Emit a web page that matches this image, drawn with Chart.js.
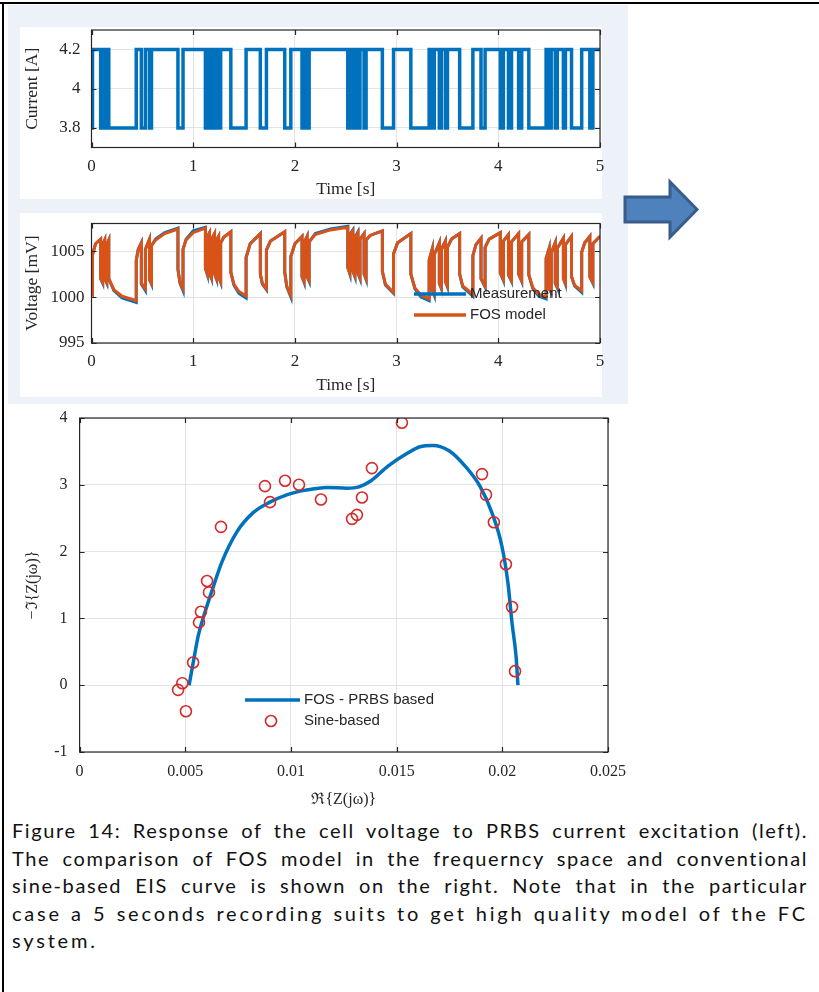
<!DOCTYPE html>
<html>
<head>
<meta charset="utf-8">
<script src="https://cdn.jsdelivr.net/npm/chart.js@4.4.1/dist/chart.umd.min.js"></script>
<style>
body{margin:0;width:819px;height:992px;background:#fff;position:relative;overflow:hidden}
.frame-top{position:absolute;left:0;top:2px;width:819px;height:2px;background:#000}
.frame-left{position:absolute;left:2px;top:2px;width:2px;height:990px;background:#000}
.panel{position:absolute;left:8px;top:5px;width:620px;height:399px;background:#edf2f9}
.white{position:absolute;background:#fff}
canvas{position:absolute}
#caption{position:absolute;left:12px;top:817px;width:796px;font-family:Lato;font-size:20px;line-height:27.5px;color:#111;letter-spacing:1.6px}
#caption div{white-space:nowrap}
#caption .j{text-align:justify;text-align-last:justify}
</style>
</head>
<body>
<div class="frame-top"></div>
<div class="frame-left"></div>
<div class="panel"></div>
<div class="white" style="left:20px;top:27px;width:582px;height:172px"></div>
<div class="white" style="left:20px;top:213px;width:582px;height:184px"></div>

<canvas id="currentChart" width="612" height="185" style="left:10px;top:15px"></canvas>
<canvas id="voltageChart" width="612" height="186" style="left:10px;top:210px"></canvas>
<canvas id="nyquistChart" width="630" height="406" style="left:10px;top:403px"></canvas>

<svg style="position:absolute;left:622px;top:178px" width="80" height="64">
  <polygon points="3,19 48,19 48,4 75,31.5 48,59 48,44 3,44" fill="#4f81bd" stroke="#385d8a" stroke-width="3"/>
</svg>

<div id="caption">
  <div class="j">Figure 14: Response of the cell voltage to PRBS current excitation (left).</div>
  <div class="j">The comparison of FOS model in the frequerncy space and conventional</div>
  <div class="j">sine-based EIS curve is shown on the right. Note that in the particular</div>
  <div class="j" style="letter-spacing:2.8px">case a 5 seconds recording suits to get high quality model of the FC</div>
  <div style="letter-spacing:2.8px">system.</div>
</div>

<script>
// PRBS current: switch instants [s] and level held from that instant [A]
const switchTimes = [0, 0.01, 0.09, 0.11, 0.13, 0.15, 0.17, 0.44, 0.49, 0.53,
  0.57, 0.59, 0.85, 0.90, 1.12, 1.14, 1.16, 1.18, 1.21, 1.23,
  1.25, 1.27, 1.37, 1.52, 1.66, 1.72, 1.90, 1.96, 2.07, 2.09,
  2.12, 2.14, 2.52, 2.54, 2.57, 2.59, 2.62, 2.64, 2.68, 2.70,
  2.86, 2.97, 3.14, 3.32, 3.35, 3.37, 3.42, 3.44, 3.48, 3.50,
  3.62, 3.75, 3.83, 3.87, 4.02, 4.05, 4.10, 4.13, 4.20, 4.23,
  4.30, 4.47, 4.50, 4.52, 4.56, 4.58, 4.64, 4.66, 4.72, 4.82,
  4.90, 4.93, 5.00];
const currentLevels = [3.8, 4.2, 3.8, 4.2, 3.8, 4.2, 3.8, 4.2, 3.8, 4.2,
  3.8, 4.2, 3.8, 4.2, 3.8, 4.2, 3.8, 4.2, 3.8, 4.2,
  3.8, 4.2, 3.8, 4.2, 3.8, 4.2, 3.8, 4.2, 3.8, 4.2,
  3.8, 4.2, 3.8, 4.2, 3.8, 4.2, 3.8, 4.2, 3.8, 4.2,
  3.8, 4.2, 3.8, 4.2, 3.8, 4.2, 3.8, 4.2, 3.8, 4.2,
  3.8, 4.2, 3.8, 4.2, 3.8, 4.2, 3.8, 4.2, 3.8, 4.2,
  3.8, 4.2, 3.8, 4.2, 3.8, 4.2, 3.8, 4.2, 3.8, 4.2,
  3.8, 4.2, 4.2];

// cell voltage [mV]
const voltTime = [
  0, 0.01,  0.01, 0.04, 0.09,  0.09, 0.11,  0.11, 0.13,  0.13, 0.15,  0.15, 0.17,
  0.17, 0.22, 0.30, 0.44,  0.44, 0.46, 0.49,  0.49, 0.53,  0.53, 0.57,  0.57, 0.59,
  0.59, 0.63, 0.72, 0.85,  0.85, 0.87, 0.90,  0.90, 0.93, 1.00, 1.12,
  1.12, 1.14,  1.14, 1.16,  1.16, 1.18,  1.18, 1.21,  1.21, 1.23,  1.23, 1.25,  1.25, 1.27,
  1.27, 1.30, 1.37,  1.37, 1.40, 1.45, 1.52,  1.52, 1.56, 1.66,  1.66, 1.68, 1.72,
  1.72, 1.76, 1.90,  1.90, 1.92, 1.96,  1.96, 2.00, 2.07,  2.07, 2.09,  2.09, 2.12,  2.12, 2.14,
  2.14, 2.20, 2.35, 2.52,  2.52, 2.54,  2.54, 2.57,  2.57, 2.59,  2.59, 2.62,  2.62, 2.64,
  2.64, 2.68,  2.68, 2.70,  2.70, 2.74, 2.86,  2.86, 2.89, 2.97,  2.97, 3.01, 3.14,
  3.14, 3.18, 3.24, 3.32,  3.32, 3.35,  3.35, 3.37,  3.37, 3.42,  3.42, 3.44,  3.44, 3.48,
  3.48, 3.50,  3.50, 3.54, 3.62,  3.62, 3.65, 3.75,  3.75, 3.78, 3.83,  3.83, 3.87,
  3.87, 3.91, 4.02,  4.02, 4.05,  4.05, 4.10,  4.10, 4.13,  4.13, 4.20,  4.20, 4.23,
  4.23, 4.30,  4.30, 4.34, 4.40, 4.47,  4.47, 4.50,  4.50, 4.52,  4.52, 4.56,  4.56, 4.58,
  4.58, 4.64,  4.64, 4.66,  4.66, 4.72,  4.72, 4.75, 4.82,  4.82, 4.85, 4.90,
  4.90, 4.93,  4.93, 5.00];
const voltModel = [
  1000.4, 1000.3,  1004.6, 1005.8, 1006.3,  1002.0, 1001.6,  1005.7, 1006.2,  1002.0, 1001.6,  1005.7, 1006.2,
  1002.0, 1000.8, 1000.1, 999.6,  1004.0, 1005.2, 1005.9,  1001.5, 1000.9,  1005.2, 1006.3,  1001.9, 1001.5,
  1005.6, 1006.2, 1006.9, 1007.4,  1003.0, 1001.6, 1000.9,  1005.2, 1006.2, 1007.0, 1007.5,
  1003.1, 1002.5,  1006.6, 1007.0,  1002.6, 1002.1,  1006.3, 1006.9,  1002.5, 1002.0,  1006.2, 1006.6,  1002.2, 1001.7,
  1005.9, 1006.5, 1007.1,  1002.7, 1001.4, 1000.6, 1000.1,  1004.3, 1005.8, 1006.9,  1002.5, 1001.5, 1000.9,
  1005.1, 1006.1, 1007.1,  1002.7, 1001.2, 1000.2,  1004.4, 1005.8, 1006.6,  1002.2, 1001.7,  1005.9, 1006.6,  1002.2, 1001.8,
  1006.0, 1006.8, 1007.3, 1007.6,  1003.2, 1002.6,  1006.8, 1007.2,  1002.8, 1002.3,  1006.5, 1007.0,  1002.6, 1002.1,
  1006.3, 1006.9,  1002.5, 1002.0,  1006.2, 1006.7, 1007.2,  1002.8, 1001.4, 1000.5,  1004.7, 1005.9, 1006.9,
  1002.5, 1001.0, 1000.2, 999.8,  1004.0, 1005.2,  1000.8, 1000.4,  1004.6, 1005.9,  1001.5, 1001.0,  1005.2, 1006.1,
  1001.7, 1001.2,  1005.4, 1006.3, 1006.9,  1002.5, 1001.2, 1000.3,  1004.5, 1005.7, 1006.4,  1002.0, 1001.2,
  1005.4, 1006.3, 1007.0,  1002.6, 1001.9,  1006.1, 1006.8,  1002.4, 1001.8,  1006.0, 1006.9,  1002.5, 1001.8,
  1006.0, 1006.8,  1002.4, 1001.0, 1000.3, 1000.0,  1004.2, 1005.3,  1000.9, 1000.6,  1004.8, 1005.9,  1001.5, 1001.1,
  1005.3, 1006.4,  1002.0, 1001.5,  1005.7, 1006.6,  1002.2, 1001.3, 1000.7,  1004.9, 1005.9, 1006.6,
  1002.2, 1001.6,  1005.8, 1006.6];
const voltMeas = [
  1000.4, 1000.3,  1004.6, 1005.8, 1006.3,  1002.0, 1001.5,  1005.7, 1006.2,  1002.0, 1001.5,  1005.7, 1006.2,
  1002.0, 1000.7, 999.9, 999.4,  1004.0, 1005.2, 1005.9,  1001.4, 1000.7,  1005.2, 1006.3,  1001.9, 1001.4,
  1005.6, 1006.3, 1007.0, 1007.5,  1003.0, 1001.5, 1000.7,  1005.2, 1006.3, 1007.2, 1007.6,
  1003.1, 1002.4,  1006.6, 1007.0,  1002.6, 1002.0,  1006.3, 1006.9,  1002.5, 1001.9,  1006.2, 1006.6,  1002.2, 1001.6,
  1005.9, 1006.5, 1007.1,  1002.7, 1001.3, 1000.4, 999.9,  1004.3, 1005.8, 1006.9,  1002.5, 1001.4, 1000.8,
  1005.1, 1006.1, 1007.1,  1002.7, 1001.1, 1000.0,  1004.4, 1005.8, 1006.6,  1002.2, 1001.6,  1005.9, 1006.6,  1002.2, 1001.7,
  1006.0, 1006.9, 1007.4, 1007.7,  1003.2, 1002.5,  1006.8, 1007.3,  1002.8, 1002.2,  1006.5, 1007.1,  1002.6, 1002.0,
  1006.3, 1006.9,  1002.5, 1001.9,  1006.2, 1006.7, 1007.2,  1002.8, 1001.3, 1000.4,  1004.7, 1005.9, 1006.9,
  1002.5, 1000.9, 1000.0, 999.6,  1004.0, 1005.2,  1000.8, 1000.2,  1004.6, 1005.9,  1001.5, 1000.9,  1005.2, 1006.1,
  1001.7, 1001.1,  1005.4, 1006.3, 1006.9,  1002.5, 1001.1, 1000.1,  1004.5, 1005.7, 1006.4,  1002.0, 1001.1,
  1005.4, 1006.3, 1007.0,  1002.6, 1001.8,  1006.1, 1006.8,  1002.4, 1001.7,  1006.0, 1006.9,  1002.5, 1001.7,
  1006.0, 1006.8,  1002.4, 1000.9, 1000.1, 999.8,  1004.2, 1005.3,  1000.9, 1000.5,  1004.8, 1005.9,  1001.5, 1001.0,
  1005.3, 1006.4,  1002.0, 1001.4,  1005.7, 1006.6,  1002.2, 1001.2, 1000.5,  1004.9, 1005.9, 1006.6,
  1002.2, 1001.5,  1005.8, 1006.6];

// Nyquist plot: FOS - PRBS based curve
const fosRe = [0.00518, 0.00537, 0.00562, 0.00589, 0.0063, 0.00674, 0.00745, 0.0082, 0.009, 0.0098,
  0.0107, 0.0117, 0.01265, 0.01322, 0.01379, 0.01459, 0.01554, 0.0161, 0.01672, 0.01748,
  0.01824, 0.01894, 0.01951, 0.01998, 0.02027, 0.02046, 0.02065, 0.02074];
const fosIm = [0, 0.33, 0.75, 1.05, 1.45, 1.85, 2.30, 2.58, 2.74, 2.85,
  2.92, 2.96, 2.95, 2.97, 3.06, 3.28, 3.48, 3.57, 3.59, 3.51,
  3.28, 2.98, 2.58, 2.08, 1.52, 0.93, 0.43, 0];
// Nyquist plot: sine-based EIS points
const sineRe = [0.00466, 0.00486, 0.00503, 0.00537, 0.00565, 0.00574, 0.00603, 0.00612, 0.00669, 0.00877,
  0.00901, 0.00972, 0.01038, 0.01142, 0.01289, 0.01312, 0.01336, 0.01383, 0.01525, 0.01904,
  0.01923, 0.0196, 0.02017, 0.02046, 0.0206];
const sineIm = [-0.07, 0.03, -0.39, 0.34, 0.94, 1.10, 1.56, 1.39, 2.37, 2.98,
  2.74, 3.06, 3.00, 2.78, 2.49, 2.55, 2.81, 3.25, 3.93, 3.16,
  2.85, 2.44, 1.81, 1.17, 0.21];

// tick positions and labels
const timeTicks = [0, 1, 2, 3, 4, 5];
const timeTickLabels = ['0', '1', '2', '3', '4', '5'];
const currentTicks = [3.8, 4, 4.2];
const currentTickLabels = ['3.8', '4', '4.2'];
const voltTicks = [995, 1000, 1005];
const voltTickLabels = ['995', '1000', '1005'];
const reTicks = [0, 0.005, 0.01, 0.015, 0.02, 0.025];
const reTickLabels = ['0', '0.005', '0.01', '0.015', '0.02', '0.025'];
const imTicks = [-1, 0, 1, 2, 3, 4];
const imTickLabels = ['-1', '0', '1', '2', '3', '4'];

const BLUE = '#0072bd';
const ORANGE = '#d95319';
const RED = '#d42a2a';
const INK = '#262626';

// axes box with inward tick marks, like MATLAB
const boxPlugin = {
  id: 'matlabBox',
  afterDraw(chart) {
    const {ctx, chartArea: a, scales} = chart;
    const len = 5;
    ctx.save();
    ctx.strokeStyle = INK;
    ctx.lineWidth = 1.2;
    ctx.beginPath();
    scales.x.ticks.forEach(t => {
      const px = Math.round(scales.x.getPixelForValue(t.value)) + 0.5;
      ctx.moveTo(px, a.bottom); ctx.lineTo(px, a.bottom - len);
      ctx.moveTo(px, a.top); ctx.lineTo(px, a.top + len);
    });
    scales.y.ticks.forEach(t => {
      const py = Math.round(scales.y.getPixelForValue(t.value)) + 0.5;
      ctx.moveTo(a.left, py); ctx.lineTo(a.left + len, py);
      ctx.moveTo(a.right, py); ctx.lineTo(a.right - len, py);
    });
    ctx.stroke();
    ctx.strokeRect(a.left, a.top, a.right - a.left, a.bottom - a.top);
    ctx.restore();
  }
};

// legend drawn inside the axes at a fixed spot
const legendPlugin = {
  id: 'innerLegend',
  afterDatasetsDraw(chart, args, opts) {
    if (!opts.items) return;
    const ctx = chart.ctx;
    ctx.save();
    ctx.font = '15px "Liberation Sans"';
    ctx.textBaseline = 'middle';
    opts.items.forEach(it => {
      const ds = chart.data.datasets[it.dataset];
      ctx.strokeStyle = ds.borderColor;
      ctx.beginPath();
      if (it.kind === 'line') {
        ctx.lineWidth = 3.5;
        ctx.moveTo(it.x0, it.y);
        ctx.lineTo(it.x1, it.y);
      } else {
        ctx.lineWidth = 1.6;
        ctx.arc((it.x0 + it.x1) / 2, it.y, 5.5, 0, Math.PI * 2);
      }
      ctx.stroke();
      ctx.fillStyle = INK;
      ctx.fillText(ds.label, it.tx, it.y);
    });
    ctx.restore();
  }
};

function fixedTicks(values) {
  return scale => { scale.ticks = values.map(v => ({value: v})); };
}

// size the axis box and drop the label overflow padding so the plot area lands where wanted
function fitAxis(size) {
  return s => {
    if (s.isHorizontal()) {
      s.height = size;
      s.paddingLeft = 0; s.paddingRight = 0;
    } else {
      s.width = size;
      s.paddingTop = 0; s.paddingBottom = 0;
    }
  };
}

function axis(opts) {
  return {
    type: 'linear',
    min: opts.min,
    max: opts.max,
    afterBuildTicks: fixedTicks(opts.ticks),
    afterFit: fitAxis(opts.size),
    grid: {color: '#e3e3e3', lineWidth: 1, drawTicks: false},
    border: {display: false},
    ticks: {
      autoSkip: false,
      maxRotation: 0,
      padding: opts.pad,
      color: INK,
      font: {family: 'Liberation Serif', size: opts.fontSize || 17},
      callback: (v, i) => opts.labels[i]
    },
    title: {
      display: true,
      text: opts.title,
      color: INK,
      font: {family: 'Liberation Serif', size: opts.titleSize || 17.5},
      padding: opts.titlePad
    }
  };
}

const baseOptions = {
  responsive: false,
  animation: false,
  events: [],
  plugins: {legend: {display: false}, tooltip: {enabled: false}}
};

new Chart(document.getElementById('currentChart'), {
  type: 'line',
  data: {
    datasets: [{
      label: 'Current',
      data: switchTimes.map((t, i) => ({x: t, y: currentLevels[i]})),
      borderColor: BLUE,
      borderWidth: 3.5,
      stepped: 'before',
      pointRadius: 0,
      fill: false
    }]
  },
  options: {
    ...baseOptions,
    layout: {padding: {top: 15, right: 22, bottom: 0, left: 0}},
    scales: {
      x: axis({min: 0, max: 5, ticks: timeTicks, labels: timeTickLabels, pad: 9,
        title: 'Time [s]', titlePad: {top: 0, bottom: 0}, size: 52.5}),
      y: axis({min: 3.7, max: 4.3, ticks: currentTicks, labels: currentTickLabels, pad: 11,
        title: 'Current [A]', titlePad: {top: 11.5, bottom: 0}, size: 81.5})
    }
  },
  plugins: [boxPlugin]
});

new Chart(document.getElementById('voltageChart'), {
  type: 'line',
  data: {
    datasets: [{
      label: 'Measurement',
      data: voltTime.map((t, i) => ({x: t, y: voltMeas[i]})),
      borderColor: BLUE,
      borderWidth: 3,
      pointRadius: 0,
      tension: 0,
      order: 1
    }, {
      label: 'FOS model',
      data: voltTime.map((t, i) => ({x: t, y: voltModel[i]})),
      borderColor: ORANGE,
      borderWidth: 3,
      pointRadius: 0,
      tension: 0,
      order: 0
    }]
  },
  options: {
    ...baseOptions,
    layout: {padding: {top: 13.5, right: 22, bottom: 0, left: 0}},
    plugins: {
      ...baseOptions.plugins,
      innerLegend: {items: [
        {dataset: 0, kind: 'line', x0: 404, x1: 456, y: 84, tx: 460},
        {dataset: 1, kind: 'line', x0: 404, x1: 456, y: 105, tx: 460}
      ]}
    },
    scales: {
      x: axis({min: 0, max: 5, ticks: timeTicks, labels: timeTickLabels, pad: 8,
        title: 'Time [s]', titlePad: {top: 0, bottom: 0}, size: 53}),
      y: axis({min: 995, max: 1008, ticks: voltTicks, labels: voltTickLabels, pad: 7,
        title: 'Voltage [mV]', titlePad: {top: 11.5, bottom: 0}, size: 81.5})
    }
  },
  plugins: [boxPlugin, legendPlugin]
});

new Chart(document.getElementById('nyquistChart'), {
  type: 'scatter',
  data: {
    datasets: [{
      label: 'FOS - PRBS based',
      type: 'line',
      data: fosRe.map((r, i) => ({x: r, y: fosIm[i]})),
      borderColor: BLUE,
      borderWidth: 3.5,
      pointRadius: 0,
      cubicInterpolationMode: 'monotone',
      order: 1
    }, {
      label: 'Sine-based',
      data: sineRe.map((r, i) => ({x: r, y: sineIm[i]})),
      borderColor: RED,
      backgroundColor: 'rgba(0,0,0,0)',
      borderWidth: 1.6,
      pointRadius: 5.5,
      pointStyle: 'circle',
      order: 0
    }]
  },
  options: {
    ...baseOptions,
    layout: {padding: {top: 15, right: 32, bottom: 0, left: 0}},
    plugins: {
      ...baseOptions.plugins,
      innerLegend: {items: [
        {dataset: 0, kind: 'line', x0: 235, x1: 290, y: 297, tx: 294},
        {dataset: 1, kind: 'circle', x0: 255, x1: 267, y: 318, tx: 294}
      ]}
    },
    scales: {
      x: axis({min: 0, max: 0.025, ticks: reTicks, labels: reTickLabels, pad: 10, fontSize: 16,
        title: 'ℜ{Z(jω)}', titleSize: 16, titlePad: {top: 0, bottom: 0}, size: 57}),
      y: axis({min: -1, max: 4, ticks: imTicks, labels: imTickLabels, pad: 12, fontSize: 16,
        title: '−ℑ{Z(jω)}', titleSize: 16, titlePad: {top: 13, bottom: 0}, size: 69.6})
    }
  },
  plugins: [boxPlugin, legendPlugin]
});
</script>
</body>
</html>
